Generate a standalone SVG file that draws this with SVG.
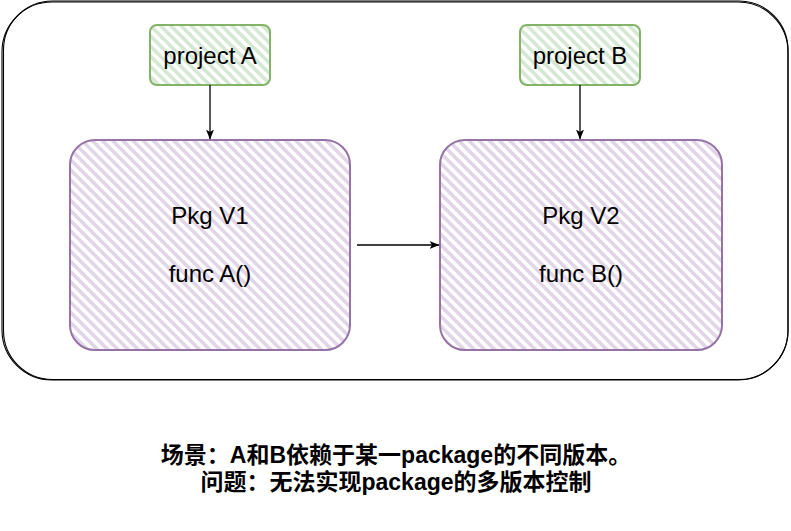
<svg xmlns="http://www.w3.org/2000/svg" width="791" height="531" viewBox="0 0 791 531">
<style>
.lbl{font-family:"Liberation Sans",Arial,sans-serif;font-size:24px;fill:#000;text-anchor:middle}
.cap{font-family:"Liberation Sans","Noto Sans CJK SC",sans-serif;font-size:23px;font-weight:bold;fill:#000;text-anchor:middle}
.edge{stroke:#000;stroke-width:1.3;fill:none;marker-end:url(#arr)}
.outer{fill:none;stroke:#000;stroke-width:1.1}
</style>
<defs>
<pattern id="hp" width="7.2" height="7.2" patternUnits="userSpaceOnUse" patternTransform="rotate(-45)">
<rect x="0" y="0" width="3.6" height="7.2" fill="#e1d5e7"/>
</pattern>
<pattern id="hg" width="7.2" height="7.2" patternUnits="userSpaceOnUse" patternTransform="rotate(-45)">
<rect x="0" y="0" width="3.6" height="7.2" fill="#d5e8d4"/>
</pattern>
<marker id="arr" markerWidth="10" markerHeight="8" refX="9.5" refY="4" orient="auto" markerUnits="userSpaceOnUse">
<path d="M0,0 L10,4 L0,8 L2.5,4 Z" fill="#000"/>
</marker>
</defs>
<g id="container">
<rect class="outer" x="2" y="2" width="786" height="378" rx="50" ry="50"/>
<rect class="outer" x="3.5" y="1" width="784.5" height="378.5" rx="49" ry="49"/>
</g>
<g id="projectA">
<rect x="150" y="25" width="120" height="60" rx="7" fill="url(#hg)"/>
<rect x="150" y="25" width="120" height="60" rx="7" fill="none" stroke="#82b366" stroke-width="2"/>
<text class="lbl" x="210" y="63.5">project A</text>
</g>
<g id="projectB">
<rect x="520" y="25" width="120" height="60" rx="7" fill="url(#hg)"/>
<rect x="520" y="25" width="120" height="60" rx="7" fill="none" stroke="#82b366" stroke-width="2"/>
<text class="lbl" x="580" y="63.5">project B</text>
</g>
<g id="pkgV1">
<rect x="70" y="140" width="280" height="210" rx="25" fill="url(#hp)"/>
<rect x="70" y="140" width="280" height="210" rx="25" fill="none" stroke="#9673a6" stroke-width="2"/>
<text class="lbl" x="210" y="224">Pkg V1</text>
<text class="lbl" x="210" y="282">func A()</text>
</g>
<g id="pkgV2">
<rect x="440" y="140" width="282" height="210" rx="25" fill="url(#hp)"/>
<rect x="440" y="140" width="282" height="210" rx="25" fill="none" stroke="#9673a6" stroke-width="2"/>
<text class="lbl" x="581" y="224">Pkg V2</text>
<text class="lbl" x="581" y="282">func B()</text>
</g>
<g id="connectors">
<path class="edge" d="M210,85 L210,139"/>
<path class="edge" d="M580,85 L580,139"/>
<path class="edge" d="M357,245 L439,245"/>
</g>
<g id="caption">
<text class="cap" x="396" y="463">场景：A和B依赖于某一package的不同版本。</text>
<text class="cap" x="396" y="490">问题：无法实现package的多版本控制</text>
</g>
</svg>
